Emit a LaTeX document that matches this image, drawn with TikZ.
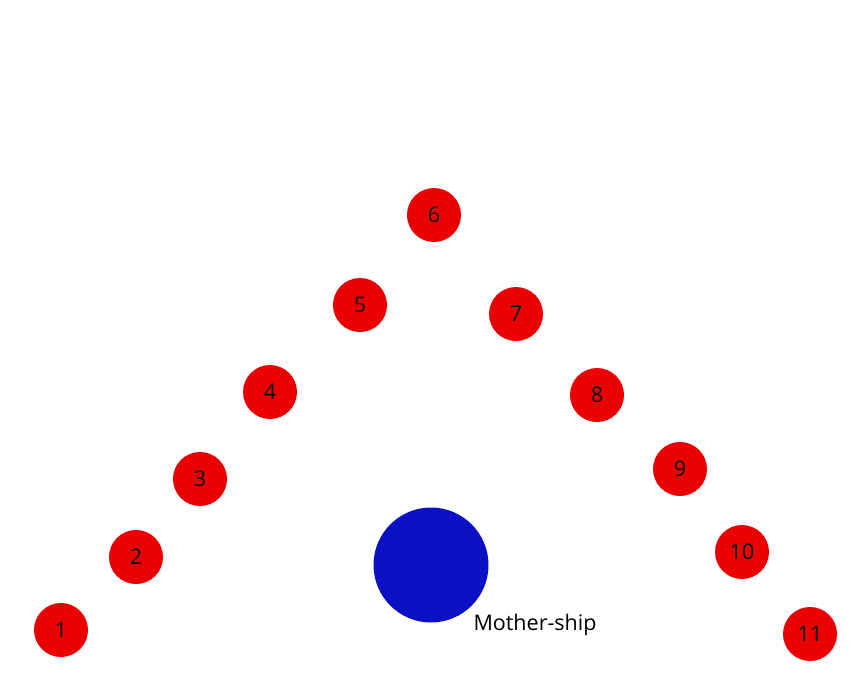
\documentclass[tikz,border=0pt]{standalone}
\usepackage{fontspec}
\setmainfont{Open Sans}
\usepackage{tikz}
\usetikzlibrary{positioning}
\definecolor{droneRed}{RGB}{234,0,0}
\definecolor{shipBlue}{RGB}{12,16,196}
\tikzset{
	drone/.style = {circle, fill = droneRed, minimum size = 54pt, inner sep = 0pt,
		font = \fontsize{21.5}{25}\selectfont},
	mothership/.style = {circle, fill = shipBlue, minimum size = 115pt, inner sep = 0pt},
	shiplabel/.style = {inner sep = 0pt, font = \fontsize{21.5}{25}\selectfont}
}
\begin{document}
\begin{tikzpicture}[x = 1pt, y = -1pt]
	\useasboundingbox (0, 0) rectangle (860, 680);
	% drones in the V formation
	\foreach\i/\x/\y in {1/61/630, 2/136/557, 3/200/479, 4/270/392, 5/360/305, 6/434/215,
		7/516/314, 8/597/395, 9/680/469, 10/742/552, 11/810/634}{
		\node [drone] (d\i) at (\x, \y) {\i};
	}

	\node [mothership] (ship) at (431, 565) {};
	\node [shiplabel] (shipname) at (535, 625) {Mother-ship};
\end{tikzpicture}
\end{document}
